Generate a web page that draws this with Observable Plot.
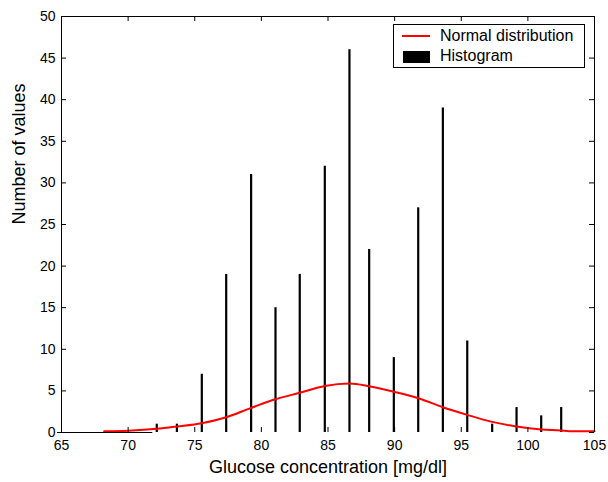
<!DOCTYPE html>
<html>
<head>
<meta charset="utf-8">
<script src="https://cdn.jsdelivr.net/npm/d3@7"></script>
<script src="https://cdn.jsdelivr.net/npm/@observablehq/plot@0.6"></script>
<style>
  html, body { margin: 0; padding: 0; background: #fff; }
  #wrap { position: relative; width: 608px; height: 482px; font-family: "Liberation Sans", Arial, sans-serif; }
  #legend { position: absolute; left: 393px; top: 24px; width: 192px; height: 44px; border: 1px solid #000; background: #fff; box-sizing: border-box; font-size: 16px; color: #000; }
  #legend .sw { position: absolute; left: 8px; }
  #legend .lab { position: absolute; left: 46px; white-space: nowrap; line-height: 16px; }
</style>
</head>
<body>
<div id="wrap">
  <div id="plot"></div>
  <div id="legend">
    <div class="sw" style="top:10px;width:28px;height:2px;background:#ff0000;"></div>
    <div class="lab" style="top:3px;">Normal distribution</div>
    <div class="sw" style="top:26px;left:9px;width:27px;height:12px;background:#000;"></div>
    <div class="lab" style="top:23px;">Histogram</div>
  </div>
</div>
<script>
// Histogram bins (bin centre in mg/dl) and counts
const binCenters = [72.15, 73.66, 75.53, 77.36, 79.23, 81.06, 82.88, 84.76, 86.61, 88.09, 89.94, 91.77, 93.62, 95.45, 97.32, 99.15, 101.0, 102.5];
const binCounts  = [1, 1, 7, 19, 31, 15, 19, 32, 46, 22, 9, 27, 39, 11, 1, 3, 2, 3];

// Fitted normal distribution curve
const curveX = [68.2, 70, 72.15, 73.66, 75.53, 77.36, 79.23, 81.06, 82.88, 84.76, 86.61, 88.09, 89.94, 91.77, 93.62, 95.45, 97.32, 99.15, 101.0, 102.5, 103.1, 105];
const curveY = [0.16, 0.22, 0.44, 0.72, 1.12, 1.84, 2.96, 4.0, 4.77, 5.6, 5.9, 5.57, 4.89, 4.12, 3.04, 2.12, 1.28, 0.72, 0.36, 0.24, 0.16, 0.16];

// Axis ticks
const xTicks = [65, 70, 75, 80, 85, 90, 95, 100, 105];
const yTicks = [0, 5, 10, 15, 20, 25, 30, 35, 40, 45, 50];
const xDomain = [65, 105];
const yDomain = [0, 50];

const bins = binCenters.map((x, i) => ({x, count: binCounts[i]}));
const curve = curveX.map((x, i) => ({x, y: curveY[i]}));

const W = 608, H = 482;
const mL = 61, mR = 14, mT = 16, mB = 50;
const innerW = W - mL - mR, innerH = H - mT - mB;
const tick = 5;

const chart = Plot.plot({
  width: W,
  height: H,
  marginLeft: mL,
  marginRight: mR,
  marginTop: mT,
  marginBottom: mB,
  style: {fontFamily: "'Liberation Sans', Arial, sans-serif", fontSize: "14px", color: "#000", background: "#fff"},
  x: {domain: xDomain, label: null},
  y: {domain: yDomain, label: null},
  marks: [
    Plot.axisX({ticks: xTicks, tickSize: 0, tickPadding: 8, tickFormat: d => String(d), fontSize: 14, fill: "#000"}),
    Plot.axisY({ticks: yTicks, tickSize: 0, tickPadding: 6, tickFormat: d => String(d), fontSize: 14, fill: "#000"}),
    Plot.text(["Glucose concentration [mg/dl]"], {frameAnchor: "bottom", dy: 35, text: d => d, fontSize: 18, fill: "#000", lineAnchor: "middle"}),
    Plot.text(["Number of values"], {frameAnchor: "left", dx: -42, rotate: -90, text: d => d, fontSize: 18, fill: "#000"}),
    Plot.ruleX(bins, {x: "x", y1: 0, y2: "count", stroke: "#000", strokeWidth: 2.2}),
    Plot.line(curve, {x: "x", y: "y", stroke: "#ff0000", strokeWidth: 2, curve: "monotone-x"}),
    Plot.ruleX(xDomain, {x: d => d, stroke: "#000", strokeWidth: 1}),
    Plot.ruleY([yDomain[1]], {y: d => d, stroke: "#000", strokeWidth: 1}),
    Plot.ruleY([yDomain[0]], {y: d => d, x1: xDomain[0], x2: binCenters[0], dx: -4, stroke: "#000", strokeWidth: 1}),
    Plot.ruleX(xTicks, {x: d => d, insetTop: innerH - tick, stroke: "#000"}),
    Plot.ruleX(xTicks, {x: d => d, insetBottom: innerH - tick, stroke: "#000"}),
    Plot.ruleY(yTicks, {y: d => d, insetRight: innerW - tick, stroke: "#000"}),
    Plot.ruleY(yTicks, {y: d => d, insetLeft: innerW - tick, stroke: "#000"})
  ]
});
document.getElementById("plot").appendChild(chart);
</script>
</body>
</html>
